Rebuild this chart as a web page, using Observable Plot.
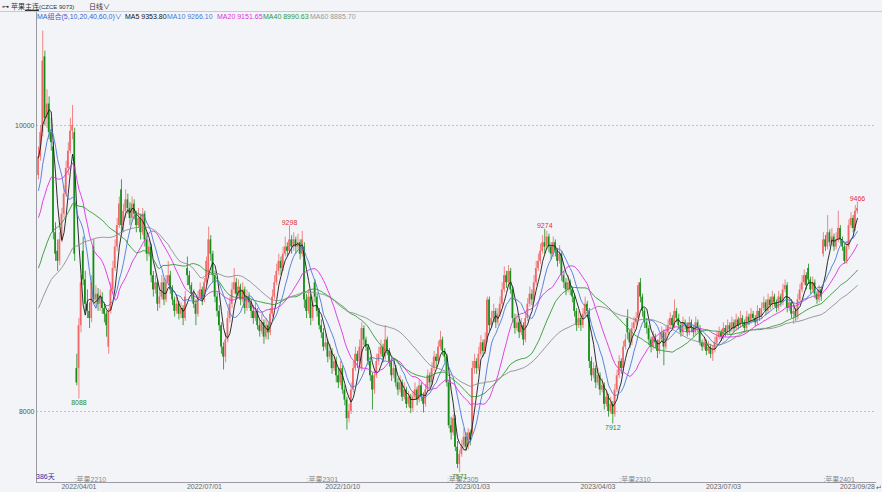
<!DOCTYPE html>
<html><head><meta charset="utf-8">
<script src="https://cdn.jsdelivr.net/npm/d3@7"></script>
<script src="https://cdn.jsdelivr.net/npm/@observablehq/plot@0.6"></script>
<style>
html,body{margin:0;padding:0;background:#f3f4f8;}
#wrap{position:relative;width:882px;height:492px;overflow:hidden;font-family:"Liberation Sans","Noto Sans CJK SC",sans-serif;}
#chart{position:absolute;left:0;top:0;}
.t{position:absolute;white-space:nowrap;font-size:7px;line-height:9px;}
#topline{position:absolute;left:0;top:11px;width:882px;height:1px;background:#c9c9cf;}
</style></head>
<body><div id="wrap">
<div id="chart"></div>
<div id="topline"></div>
<div class="t" style="left:2px;top:2px;color:#333">⊶ 苹果<span style="text-decoration:underline">主连</span><span style="font-size:6px">(CZCE 9073)</span></div>
<div class="t" style="left:89px;top:2px;color:#333">日线∨</div>
<div class="t" style="left:37px;top:11.5px;color:#3b5fd0">MA组合(5,10,20,40,60,0)∨</div>
<div class="t" style="left:125px;top:11.5px;color:#111">MA5 9353.80</div>
<div class="t" style="left:167px;top:11.5px;color:#4a78d8">MA10 9266.10</div>
<div class="t" style="left:217px;top:11.5px;color:#e02ee0">MA20 9151.65</div>
<div class="t" style="left:263px;top:11.5px;color:#2e9a2e">MA40 8990.63</div>
<div class="t" style="left:310px;top:11.5px;color:#999">MA60 8885.70</div>
<div class="t" style="left:36px;top:472px;color:#30309a">386天</div>
<div class="t" style="left:876px;top:483px;color:#555;font-size:7px">↵</div>
</div>
<script>
// ---- data: daily candles (index 0 .. 385), apple main continuous contract ----
const open = [
9650,9780,9950,10480,10050,10150,9950,9850,9250,9120,9050,9200,9380,9520,9700,9820,9960,9950,8300,8300,
8600,9120,8920,8750,8700,8650,9150,8780,8820,8750,8800,8720,8680,8450,8700,8850,9000,9150,9300,9550,
9300,9400,9480,9420,9350,9450,9380,9300,9350,9250,9380,9200,9100,9150,8950,8850,8900,8750,8800,8900,
8780,8900,8950,8850,8780,8700,8750,8680,8720,8650,9000,8950,8880,8820,8750,8680,8800,8850,8780,8900,
8950,9200,9100,8950,8800,8700,8600,8450,8380,8500,8650,8750,8850,8900,8820,8870,8780,8850,8720,8800,
8760,8700,8650,8700,8600,8560,8620,8520,8600,8550,8680,8800,8900,8980,9050,9000,9100,9150,9120,9200,
9150,9200,9150,9180,9100,9150,8780,8700,8800,8650,8900,8800,8700,8600,8550,8450,8480,8380,8420,8300,
8350,8250,8200,8300,8150,8080,7950,8000,8150,8300,8400,8350,8300,8580,8500,8450,8350,8250,8150,8250,
8350,8400,8450,8380,8500,8420,8350,8250,8300,8200,8150,8200,8100,8150,8050,8100,8020,8100,8150,8080,
8180,8100,8050,8150,8250,8200,8300,8380,8350,8450,8500,8420,8380,8200,7900,7850,7950,7750,7630,7700,
7760,7820,7750,7850,7850,8300,8350,8300,8400,8480,8420,8500,8780,8600,8650,8700,8620,8680,8750,8850,
8950,8900,8980,8850,8650,8580,8620,8550,8600,8500,8650,8750,8820,8780,8900,9000,9050,9120,9180,9150,
9220,9150,9100,9180,9120,9050,9100,8950,8900,8850,8900,8850,8800,8700,8600,8650,8600,8680,8750,8700,
8350,8250,8300,8200,8250,8150,8180,8050,8100,8000,8050,7980,8150,8250,8350,8300,8450,8650,8550,8480,
8580,8620,8650,8900,8800,8700,8620,8580,8500,8450,8520,8480,8420,8500,8550,8450,8550,8600,8650,8600,
8700,8650,8600,8550,8620,8600,8550,8620,8580,8550,8620,8580,8480,8450,8480,8420,8450,8400,8430,8480,
8520,8550,8520,8580,8550,8600,8570,8620,8580,8640,8600,8650,8620,8580,8660,8630,8680,8650,8620,8700,
8660,8720,8760,8700,8780,8740,8800,8760,8720,8800,8760,8850,8880,8720,8760,8680,8700,8660,8780,8850,
8900,8950,9000,8920,8850,8900,8820,8780,8850,9100,9200,9150,9250,9180,9220,9150,9200,9280,9200,9150,9050,9150,9300,9350,9280,9400
];
const high = [
9850,10000,10660,10520,10250,10200,10050,9880,9320,9200,9250,9420,9580,9750,9880,10050,10140,9980,8400,8650,
8950,9220,8980,8850,8760,8950,9200,8880,8860,8850,8830,8760,8700,8720,8900,9050,9200,9350,9500,9620,
9450,9550,9520,9460,9500,9480,9400,9420,9380,9420,9400,9250,9200,9170,8980,8950,8920,8850,8950,8930,
8950,9050,8980,8880,8800,8800,8770,8760,8740,8840,9080,8980,8900,8850,8780,8840,8900,8870,8930,9080,
9290,9230,9120,8980,8830,8740,8620,8480,8550,8700,8800,8900,9000,8930,8920,8890,8900,8870,8850,8830,
8780,8740,8760,8720,8640,8680,8640,8650,8620,8720,8850,8950,9030,9100,9080,9150,9220,9180,9298,9230,
9250,9220,9240,9200,9260,9180,8820,8850,8820,8800,8920,8820,8720,8640,8580,8540,8500,8470,8440,8400,
8380,8300,8350,8320,8180,8100,8050,8200,8350,8450,8420,8500,8620,8600,8520,8470,8380,8270,8290,8400,
8450,8500,8470,8600,8520,8440,8370,8350,8320,8230,8250,8220,8200,8170,8140,8120,8140,8200,8170,8220,
8200,8130,8190,8290,8270,8340,8420,8400,8490,8560,8520,8440,8400,8220,7960,7980,7970,7790,7730,7800,
7880,7850,7880,7870,8350,8400,8370,8450,8530,8500,8550,8800,8800,8700,8750,8720,8720,8800,8900,9010,
8980,9020,9000,8870,8680,8680,8640,8650,8620,8690,8790,8870,8850,8950,9050,9100,9170,9230,9274,9260,
9240,9180,9220,9200,9140,9160,9120,8980,8930,8950,8920,8870,8820,8720,8700,8670,8720,8800,8770,8720,
8380,8340,8320,8300,8270,8230,8200,8150,8120,8100,8070,8190,8290,8390,8370,8490,8540,8710,8570,8620,
8660,8690,8900,8930,8820,8720,8650,8600,8520,8560,8540,8500,8540,8590,8570,8590,8640,8690,8670,8780,
8720,8680,8620,8660,8640,8620,8660,8640,8600,8660,8640,8600,8500,8520,8500,8490,8470,8460,8520,8560,
8590,8570,8620,8600,8640,8620,8660,8640,8680,8660,8700,8670,8640,8700,8680,8720,8700,8670,8740,8720,
8760,8800,8780,8820,8800,8840,8820,8780,8840,8820,8890,8920,8900,8800,8780,8740,8720,8820,8890,8950,
8990,8970,9030,8940,8940,8920,8840,8880,8870,9250,9230,9370,9270,9280,9240,9250,9400,9300,9220,9170,9190,9340,9390,9370,9440,9466
];
const low = [
9620,9750,9920,10000,9980,9900,9820,9200,9050,8980,9020,9180,9350,9500,9650,9800,9900,9050,8180,8088,
8550,8880,8700,8650,8580,8620,8750,8720,8700,8700,8680,8620,8520,8400,8680,8820,8980,9120,9280,9250,
9250,9350,9380,9300,9320,9340,9250,9280,9200,9230,9150,9050,9080,8900,8800,8820,8700,8720,8780,8740,
8760,8880,8820,8740,8660,8680,8640,8650,8600,8630,8880,8850,8780,8720,8600,8660,8780,8740,8760,8880,
8930,9050,8900,8760,8660,8560,8400,8290,8340,8480,8620,8720,8820,8780,8800,8740,8760,8680,8700,8720,
8650,8610,8630,8570,8520,8540,8470,8500,8500,8530,8660,8780,8880,8950,8950,8980,9080,9080,9100,9100,
9120,9100,9130,9060,9080,8720,8650,8680,8600,8630,8760,8660,8570,8510,8420,8430,8340,8360,8260,8280,
8200,8160,8180,8120,8040,7870,7920,7980,8130,8280,8300,8330,8280,8460,8420,8320,8210,8010,8120,8230,
8320,8380,8340,8360,8390,8310,8210,8230,8170,8110,8130,8070,8080,8020,8030,7985,8000,8080,8040,8060,
8070,7990,8030,8130,8160,8180,8280,8300,8330,8430,8390,8340,8170,7880,7800,7830,7720,7600,7571,7680,
7740,7720,7730,7760,7830,8260,8260,8280,8380,8380,8400,8480,8560,8580,8620,8580,8600,8660,8730,8830,
8860,8880,8820,8620,8540,8560,8510,8530,8460,8480,8630,8730,8740,8760,8880,8980,9030,9100,9100,9130,
9110,9060,9080,9080,9010,9030,8910,8860,8810,8830,8810,8760,8660,8560,8580,8560,8580,8660,8660,8300,
8210,8230,8160,8180,8110,8130,8010,8030,7960,7980,7912,7960,8130,8230,8260,8280,8430,8500,8440,8460,
8560,8600,8630,8760,8660,8580,8540,8460,8410,8430,8440,8370,8400,8480,8320,8430,8530,8580,8570,8580,
8620,8570,8520,8530,8570,8520,8530,8550,8520,8530,8550,8460,8420,8430,8390,8400,8370,8350,8410,8460,
8500,8490,8500,8520,8530,8540,8550,8550,8560,8570,8580,8590,8550,8560,8600,8610,8620,8590,8600,8630,
8640,8700,8670,8680,8710,8720,8730,8690,8700,8730,8740,8830,8690,8700,8650,8610,8630,8640,8760,8830,
8880,8850,8890,8820,8830,8790,8750,8760,8770,9080,9120,9130,9150,9160,9120,9130,9180,9170,9120,9030,9030,9130,9280,9250,9260,9380
];
const close = [
9780,9950,10450,10050,10150,9950,9880,9250,9100,9050,9200,9380,9520,9700,9820,9960,10000,9100,8200,8600,
8900,8920,8750,8700,8650,8900,8780,8820,8750,8800,8720,8680,8600,8700,8850,9000,9150,9300,9450,9300,
9400,9480,9420,9350,9450,9380,9300,9350,9250,9380,9200,9100,9150,8950,8850,8900,8750,8800,8900,8780,
8900,8950,8850,8780,8700,8750,8680,8720,8650,8800,8950,8880,8820,8750,8680,8800,8850,8780,8900,9050,
9200,9100,8950,8800,8700,8600,8450,8380,8500,8650,8750,8850,8900,8820,8870,8780,8850,8720,8800,8760,
8700,8650,8700,8600,8560,8620,8520,8600,8550,8680,8800,8900,8980,9050,9000,9100,9150,9120,9200,9150,
9200,9150,9180,9100,9200,8780,8700,8800,8650,8750,8800,8700,8600,8550,8450,8480,8380,8420,8300,8350,
8250,8200,8300,8150,8080,7950,8000,8150,8300,8400,8350,8450,8580,8500,8450,8350,8250,8150,8250,8350,
8400,8450,8380,8500,8420,8350,8250,8300,8200,8150,8200,8100,8150,8050,8100,8020,8100,8150,8080,8180,
8100,8050,8150,8250,8200,8300,8380,8350,8450,8500,8420,8380,8200,7900,7850,7950,7750,7630,7700,7760,
7820,7750,7850,7800,8300,8350,8300,8400,8480,8420,8500,8780,8600,8650,8700,8620,8680,8750,8850,8950,
8900,8980,8850,8650,8580,8620,8550,8600,8500,8650,8750,8820,8780,8900,9000,9050,9120,9180,9150,9220,
9150,9100,9180,9120,9050,9100,8950,8900,8850,8900,8850,8800,8700,8600,8650,8600,8680,8750,8700,8350,
8250,8300,8200,8250,8150,8180,8050,8100,8000,8050,7980,8150,8250,8350,8300,8450,8500,8550,8480,8580,
8620,8650,8880,8800,8700,8620,8580,8500,8450,8520,8480,8420,8500,8550,8450,8550,8600,8650,8600,8700,
8650,8600,8550,8620,8600,8550,8620,8580,8550,8620,8580,8480,8450,8480,8420,8450,8400,8430,8480,8520,
8550,8520,8580,8550,8600,8570,8620,8580,8640,8600,8650,8620,8580,8660,8630,8680,8650,8620,8700,8660,
8720,8760,8700,8780,8740,8800,8760,8720,8800,8760,8850,8880,8720,8760,8680,8700,8660,8780,8850,8900,
8950,8880,8920,8850,8900,8820,8780,8850,8800,9200,9150,9250,9180,9220,9150,9200,9280,9200,9150,9050,9150,9300,9350,9280,9400,9420
];
const priorClose = [
8050,8100,8080,8120,8150,8100,8130,8180,8150,8200,8170,8220,8190,8160,8200,8230,8210,8180,8240,8250,
8350,8400,8450,8420,8500,8550,8520,8600,8650,8620,8700,8680,8750,8720,8800,8780,8850,8820,8900,8980,
9050,9100,9150,9120,9200,9180,9250,9200,9220,9220,9250,9300,9280,9350,9400,9550,9700,9850,9995
];
const maPeriods = [5, 10, 20, 40, 60];
const maColors = ["#1a1a1a", "#4a78d8", "#e02ee0", "#2e9a2e", "#8c8c8c"];
const gridValues = [8000, 10000];
const tickIdx = [19, 78, 143, 204, 263, 322, 385];
const dateLabels = ["2022/04/01","2022/07/01","2022/10/10","2023/01/03","2023/04/03","2023/07/03","2023/09/28"];
const contractIdx = [17, 126, 192, 273, 369];
const contractNames = ["苹果2210","苹果2301","苹果2305","苹果2310","苹果2401"];
const highMarkIdx = [118, 238, 385];
const highMarkVal = [9298, 9274, 9466];
const lowMarkIdx = [19, 198, 270];
const lowMarkVal = [8088, 7571, 7912];

const n = close.length;
if (open.length!==n || high.length!==n || low.length!==n) throw new Error(`length mismatch o${open.length} h${high.length} l${low.length} c${close.length}`);

const bars = close.map((c, i) => ({i, o: open[i], h: high[i], l: low[i], c, up: c >= open[i]}));
const full = priorClose.concat(close);
const P = priorClose.length;
const maData = maPeriods.map((k, m) => close.map((_, i) => {
  const s = full.slice(Math.max(0, P + i - k + 1), P + i + 1);
  return {i, v: d3.mean(s), m};
}));
const RED = "#f06868", GREEN = "#168c16";
const col = d => d.up ? RED : GREEN;

const chart = Plot.plot({
  width: 882, height: 492,
  marginLeft: 36, marginRight: 7, marginTop: 12, marginBottom: 10,
  style: {background: "transparent", fontFamily: "Liberation Sans, Noto Sans CJK SC, sans-serif", fontSize: "7px", color: "#555"},
  x: {type: "linear", domain: [-0.94, 393.5]},
  y: {type: "linear", domain: [7503.5, 10790]},
  marks: [
    Plot.ruleY(gridValues, {stroke: "#b4b4b8", strokeDasharray: "2,2", strokeWidth: 0.8}),
    Plot.axisY(gridValues, {tickSize: 0, tickPadding: 2, tickFormat: d => String(d), fill: "#555", label: null}),
    Plot.axisX(tickIdx, {tickSize: 0, tickPadding: 2, tickFormat: d => dateLabels[tickIdx.indexOf(d)], fill: "#666", label: null}),
    Plot.frame({anchor: "left", stroke: "#9a9aa0"}),
    Plot.frame({anchor: "bottom", stroke: "#9a9aa0"}),
    Plot.ruleX(bars, {x: "i", y1: "l", y2: "h", stroke: col, strokeWidth: 0.8}),
    Plot.rect(bars, {x1: d => d.i - 0.38, x2: d => d.i + 0.38, y1: "o", y2: "c", fill: col}),
    ...maData.map((data, m) => Plot.line(data, {x: "i", y: "v", stroke: maColors[m], strokeWidth: 0.9})),
    Plot.text(highMarkIdx, {x: d => d, y: (d, k) => highMarkVal[k], text: (d, k) => String(highMarkVal[k]), lineAnchor: "bottom", dy: -1, fill: "#e03030"}),
    Plot.text(lowMarkIdx, {x: d => d, y: (d, k) => lowMarkVal[k], text: (d, k) => String(lowMarkVal[k]), lineAnchor: "top", dy: 1, fill: "#2a8a2a"}),
    Plot.text(contractIdx, {x: d => d, frameAnchor: "bottom", text: (d, k) => ":" + contractNames[k], textAnchor: "start", lineAnchor: "bottom", dy: -1, fill: "#8a8a8a"})
  ]
});
document.getElementById("chart").appendChild(chart);
</script>
</body></html>
